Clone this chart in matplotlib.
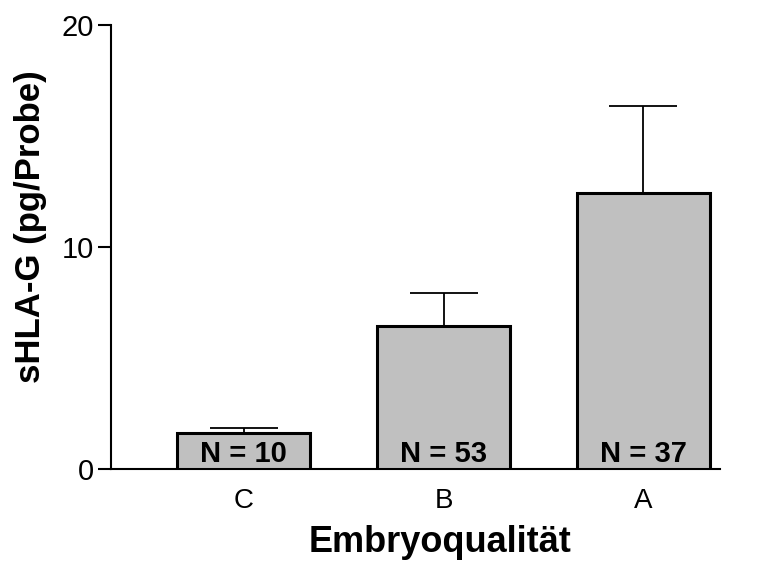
import matplotlib.pyplot as plt

FIG_SIZE = (7.66, 5.62)
SAVE_PATH = "out.png"

categories = ["C", "B", "A"]
means = [1.64, 6.44, 12.42]
errors_upper = [0.22, 1.50, 3.93]
counts = [10, 53, 37]

BAR_COLOR = "#c0c0c0"

plt.rcParams["font.family"] = ["Liberation Sans", "DejaVu Sans"]

fig = plt.figure(figsize=FIG_SIZE, dpi=100)
ax = fig.add_axes([0.145, 0.1655, 0.795, 0.79])

x = range(len(categories))
ax.bar(x, means, width=0.665, color=BAR_COLOR, edgecolor="black", linewidth=2.2, zorder=3)
ax.errorbar(x, means, yerr=[[0] * len(means), errors_upper], fmt="none",
            ecolor="black", elinewidth=1.3, capsize=24.5, capthick=1.3, zorder=2)

for xi, n in zip(x, counts):
    ax.text(xi, 0.33, f"N = {n}", ha="center", va="baseline",
            fontsize=21, fontweight="bold", zorder=4)

ax.set_xlim(-0.665, 2.385)
ax.set_ylim(0, 20)
ax.set_yticks([0, 10, 20])
ax.set_xticks(list(x))
ax.set_xticklabels(categories)

for side in ["top", "right"]:
    ax.spines[side].set_visible(False)
ax.spines["left"].set_linewidth(1.5)
ax.spines["bottom"].set_linewidth(1.5)

ax.tick_params(axis="y", length=9.5, width=1.5, labelsize=21, pad=3)
ax.tick_params(axis="x", length=0, labelsize=20, pad=14)

# x label sits under the middle bar, close to the bottom edge
ax.set_xlabel("Embryoqualität", fontsize=26, fontweight="bold")
ax.xaxis.set_label_coords((440 - 111) / 609, -(552 - 469) / 444)
ax.xaxis.label.set_va("baseline")
ax.set_ylabel("sHLA-G (pg/Probe)", fontsize=25, fontweight="bold")
ax.yaxis.set_label_coords(-0.105, 0.547)

fig.savefig(SAVE_PATH, dpi=100)
